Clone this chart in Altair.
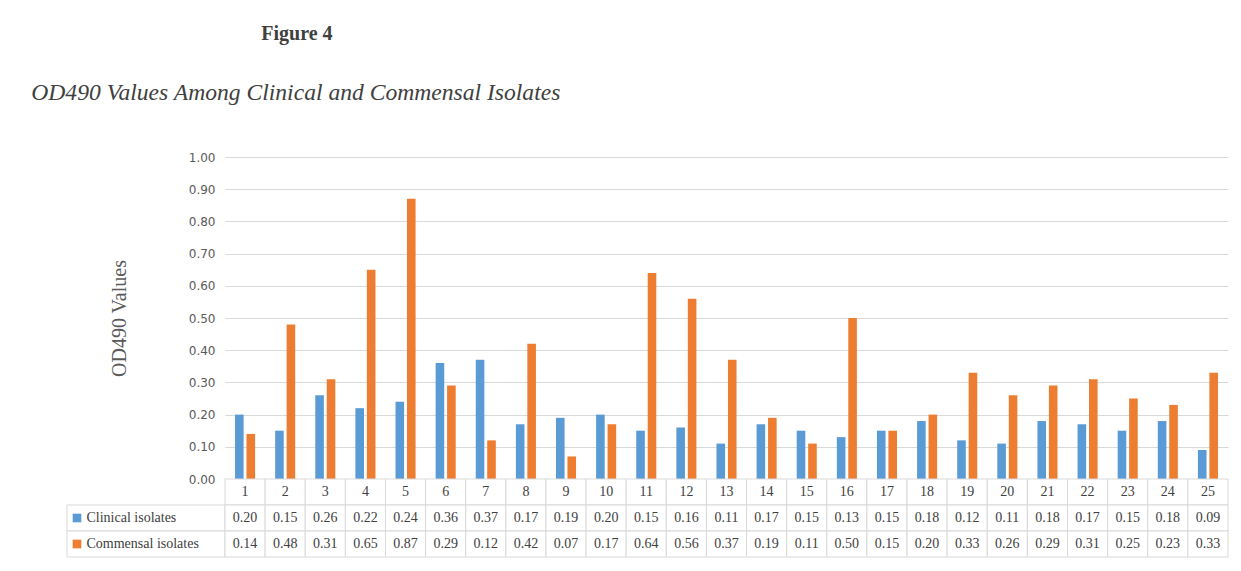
import altair as alt
import pandas as pd

isolates = [str(i) for i in range(1, 26)]
clinical = [0.20, 0.15, 0.26, 0.22, 0.24, 0.36, 0.37, 0.17, 0.19, 0.20, 0.15, 0.16, 0.11,
            0.17, 0.15, 0.13, 0.15, 0.18, 0.12, 0.11, 0.18, 0.17, 0.15, 0.18, 0.09]
commensal = [0.14, 0.48, 0.31, 0.65, 0.87, 0.29, 0.12, 0.42, 0.07, 0.17, 0.64, 0.56, 0.37,
             0.19, 0.11, 0.50, 0.15, 0.20, 0.33, 0.26, 0.29, 0.31, 0.25, 0.23, 0.33]
series = ["Clinical isolates", "Commensal isolates"]
colors = ["#5B9BD5", "#ED7D31"]
y_ticks = [round(i / 10, 1) for i in range(0, 11)]

rows = []
for i, iso in enumerate(isolates):
    rows.append({"isolate": iso, "series": series[0], "value": clinical[i]})
    rows.append({"isolate": iso, "series": series[1], "value": commensal[i]})
df = pd.DataFrame(rows)

table_rows = []
for iso in isolates:
    table_rows.append({"isolate": iso, "row": "Isolate", "label": iso, "series": ""})
for i, iso in enumerate(isolates):
    table_rows.append({"isolate": iso, "row": series[0], "label": f"{clinical[i]:.2f}", "series": series[0]})
    table_rows.append({"isolate": iso, "row": series[1], "label": f"{commensal[i]:.2f}", "series": series[1]})
tdf = pd.DataFrame(table_rows)
ldf = pd.DataFrame({"row": series, "series": series})

W = 1003
H = 322
TH = 78
GRID = "#d9d9d9"
TXT = "#404040"
SERIF = "Liberation Serif"

color_scale = alt.Scale(domain=series, range=colors)
x_scale = alt.Scale(domain=isolates, paddingInner=0.5, paddingOuter=0.25)
no_stroke = alt.ViewBackground(stroke="transparent", strokeWidth=0)

bars = alt.Chart(df).mark_bar().encode(
    x=alt.X("isolate:N", scale=x_scale, axis=None, sort=isolates),
    xOffset=alt.XOffset("series:N", sort=series, scale=alt.Scale(paddingInner=0.25)),
    y=alt.Y("value:Q", scale=alt.Scale(domain=[0, 1], nice=False),
            axis=alt.Axis(values=y_ticks, format=".2f", title="OD490 Values",
                          titleFont=SERIF, titleFontSize=20, titleFontWeight="normal",
                          titleColor="#595959", titlePadding=59,
                          labelFont="DejaVu Sans", labelFontSize=12, labelColor="#595959",
                          labelPadding=10, ticks=False, domain=False,
                          grid=True, gridColor=GRID)),
    color=alt.Color("series:N", scale=color_scale, legend=None),
).properties(
    width=W, height=H, view=no_stroke,
    title=alt.TitleParams("OD490 Values Among Clinical and Commensal Isolates",
                          font=SERIF, fontSize=23.6, fontStyle="italic", fontWeight="normal",
                          color="#404040", anchor="start", frame="bounds", dx=-78, offset=46),
)

row_order = ["Isolate"] + series
y_rows = alt.Y("row:N", sort=row_order, scale=alt.Scale(domain=row_order, paddingInner=0, paddingOuter=0),
               axis=alt.Axis(title=None, ticks=False, domain=False, labelAlign="left",
                             labelPadding=139, labelFont=SERIF, labelFontSize=14, labelColor=TXT,
                             labelExpr="datum.value == 'Isolate' ? '' : datum.value"))
x_tab = alt.X("isolate:N", sort=isolates,
              scale=alt.Scale(domain=isolates, paddingInner=0, paddingOuter=0), axis=None)

cells = alt.Chart(tdf).mark_rect(fill="white", stroke=GRID, strokeWidth=1).encode(
    x=x_tab, y=y_rows)
texts = alt.Chart(tdf).mark_text(font=SERIF, fontSize=14, color=TXT).encode(
    x=x_tab, y=y_rows, text="label:N")
label_cells = alt.Chart(ldf).mark_rect(fill="white", stroke=GRID, strokeWidth=1).encode(
    x=alt.value(-158), x2=alt.value(0), y=y_rows)
keys = alt.Chart(ldf).mark_square(size=75, opacity=1).encode(
    x=alt.value(-148), y=y_rows,
    color=alt.Color("series:N", scale=color_scale, legend=None))

table = alt.layer(label_cells, cells, texts, keys).properties(width=W, height=TH, view=no_stroke)

chart = alt.vconcat(bars, table, spacing=0, bounds="flush").properties(
    title=alt.TitleParams("Figure 4", font=SERIF, fontSize=20, fontWeight="bold",
                          color="#404040", anchor="start", dx=230, offset=37),
    padding={"left": 31, "top": 24, "right": 5, "bottom": 5},
).configure_view(stroke="transparent", strokeWidth=0).configure(background="white")

chart.save("out.html", embed_options={"renderer": "svg", "actions": False})
